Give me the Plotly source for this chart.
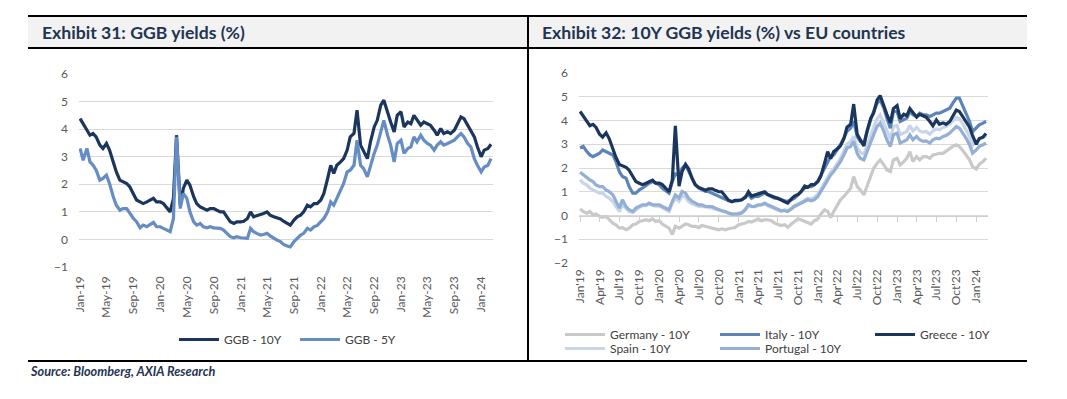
import pandas as pd
import plotly.graph_objects as go

W, H = 1067, 399
OFF = 8  # page body margin in the browser

# ---------------- data (semi-monthly readings, 1st & 15th of month) ----------------
dates = pd.date_range("2019-01-01", periods=124, freq="SMS")

ggb_10y = [4.38, 4.20, 3.96, 3.78, 3.84, 3.72, 3.42, 3.30, 3.48, 3.24,
           2.81, 2.45, 2.15, 2.09, 2.03, 1.91, 1.61, 1.43, 1.36, 1.30,
           1.36, 1.43, 1.49, 1.36, 1.36, 1.30, 1.12, 1.00, 1.49, 3.78,
           1.24, 1.85, 2.15, 1.97, 1.55, 1.30, 1.18, 1.12, 1.06, 1.12,
           1.12, 1.06, 1.00, 1.00, 0.82, 0.64, 0.58, 0.64, 0.64, 0.66,
           0.76, 1.00, 0.82, 0.86, 0.88, 0.94, 1.00, 0.88, 0.82, 0.78,
           0.74, 0.66, 0.58, 0.52, 0.70, 0.82, 0.88, 1.00, 1.24, 1.18,
           1.30, 1.30, 1.43, 1.67, 2.21, 2.69, 2.39, 2.69, 2.81, 2.93,
           3.24, 3.72, 3.84, 4.69, 3.42, 3.18, 2.93, 3.54, 4.08, 4.32,
           4.87, 5.05, 4.57, 4.26, 3.90, 4.50, 4.63, 4.08, 4.26, 4.20,
           4.50, 4.32, 4.14, 4.26, 4.20, 4.14, 3.96, 3.78, 4.02, 3.84,
           3.90, 3.84, 3.96, 4.20, 4.44, 4.38, 4.14, 3.90, 3.72, 3.36,
           3.00, 3.24, 3.30, 3.45]

ggb_5y = [3.30, 2.87, 3.30, 2.81, 2.69, 2.51, 2.15, 2.21, 2.33, 2.03,
          1.55, 1.24, 1.06, 1.12, 1.12, 0.94, 0.76, 0.64, 0.42, 0.52,
          0.46, 0.54, 0.62, 0.46, 0.46, 0.40, 0.34, 0.28, 0.76, 3.72,
          1.12, 1.67, 1.49, 1.00, 0.64, 0.52, 0.58, 0.46, 0.42, 0.46,
          0.42, 0.42, 0.40, 0.34, 0.22, 0.10, 0.06, 0.10, 0.06, 0.04,
          0.04, 0.40, 0.28, 0.22, 0.16, 0.18, 0.22, 0.13, 0.04, -0.02,
          -0.08, -0.18, -0.24, -0.27, -0.08, 0.04, 0.16, 0.22, 0.40, 0.34,
          0.46, 0.50, 0.64, 0.76, 1.00, 1.36, 1.24, 1.49, 1.79, 2.03,
          2.45, 2.51, 2.69, 3.60, 2.69, 2.57, 2.27, 2.69, 3.12, 3.42,
          3.90, 4.32, 3.78, 3.42, 2.81, 3.48, 3.60, 3.12, 3.30, 3.36,
          3.72, 3.54, 3.78, 3.60, 3.48, 3.42, 3.24, 3.42, 3.54, 3.42,
          3.48, 3.54, 3.60, 3.72, 3.84, 3.72, 3.48, 3.36, 2.93, 2.69,
          2.45, 2.63, 2.69, 2.93]

germany_10y = [0.28, 0.17, 0.10, 0.17, 0.03, 0.06, -0.04, -0.08, -0.04, -0.18,
               -0.32, -0.39, -0.53, -0.51, -0.60, -0.53, -0.39, -0.36, -0.25, -0.22,
               -0.18, -0.22, -0.14, -0.25, -0.22, -0.36, -0.46, -0.53, -0.80, -0.45,
               -0.53, -0.46, -0.36, -0.39, -0.46, -0.46, -0.51, -0.42, -0.46, -0.51,
               -0.53, -0.56, -0.60, -0.56, -0.60, -0.56, -0.53, -0.51, -0.39, -0.36,
               -0.32, -0.25, -0.28, -0.22, -0.14, -0.22, -0.18, -0.18, -0.22, -0.32,
               -0.36, -0.42, -0.39, -0.49, -0.36, -0.25, -0.14, -0.18, -0.25, -0.32,
               -0.36, -0.22, -0.14, 0.06, 0.24, 0.17, -0.08, 0.17, 0.45, 0.66,
               0.80, 0.94, 1.15, 1.64, 1.22, 1.08, 0.87, 1.22, 1.64, 1.99,
               2.20, 2.34, 2.13, 1.92, 1.85, 2.34, 2.41, 2.13, 2.27, 2.41,
               2.69, 2.27, 2.48, 2.34, 2.48, 2.48, 2.41, 2.55, 2.58, 2.62,
               2.62, 2.72, 2.81, 2.91, 2.98, 2.91, 2.72, 2.55, 2.34, 2.06,
               1.96, 2.16, 2.27, 2.41]

italy_10y = [2.84, 2.91, 2.69, 2.55, 2.48, 2.55, 2.62, 2.76, 2.69, 2.62,
             2.55, 2.27, 1.85, 1.64, 1.57, 1.22, 0.94, 0.94, 1.08, 1.15,
             1.29, 1.36, 1.43, 1.36, 1.29, 1.15, 1.01, 0.94, 1.43, 1.75,
             1.71, 1.99, 2.13, 1.85, 1.50, 1.29, 1.15, 1.08, 1.01, 1.01,
             0.94, 0.87, 0.80, 0.73, 0.66, 0.62, 0.59, 0.59, 0.62, 0.66,
             0.80, 0.87, 0.73, 0.80, 0.80, 0.87, 0.94, 0.87, 0.80, 0.73,
             0.73, 0.66, 0.62, 0.60, 0.66, 0.73, 0.87, 1.01, 1.15, 1.22,
             1.22, 1.29, 1.43, 1.71, 1.99, 2.27, 2.48, 2.55, 2.76, 2.98,
             3.26, 3.54, 3.68, 3.96, 3.33, 3.12, 3.05, 3.54, 4.03, 4.38,
             4.73, 4.87, 4.52, 4.10, 3.68, 4.38, 4.38, 3.96, 4.03, 4.10,
             4.38, 4.24, 4.17, 4.31, 4.24, 4.24, 4.17, 4.24, 4.31, 4.31,
             4.38, 4.45, 4.52, 4.73, 4.94, 4.94, 4.59, 4.24, 3.96, 3.54,
             3.68, 3.82, 3.89, 3.96]

greece_10y = ggb_10y

spain_10y = [1.50, 1.36, 1.29, 1.15, 1.08, 1.01, 0.94, 0.94, 0.80, 0.73,
             0.59, 0.38, 0.17, 0.45, 0.31, 0.17, 0.13, 0.24, 0.34, 0.42,
             0.42, 0.48, 0.42, 0.39, 0.39, 0.34, 0.24, 0.17, 0.52, 0.73,
             0.59, 0.84, 0.77, 0.59, 0.48, 0.42, 0.38, 0.38, 0.34, 0.34,
             0.31, 0.27, 0.20, 0.17, 0.13, 0.08, 0.06, 0.06, 0.08, 0.13,
             0.28, 0.45, 0.38, 0.36, 0.42, 0.45, 0.48, 0.41, 0.34, 0.28,
             0.25, 0.17, 0.24, 0.20, 0.31, 0.42, 0.48, 0.56, 0.66, 0.73,
             0.70, 0.76, 0.90, 1.12, 1.40, 1.60, 1.82, 1.96, 2.20, 2.41,
             2.72, 3.00, 3.12, 3.33, 2.86, 2.67, 2.58, 2.95, 3.40, 3.71,
             4.07, 4.24, 3.89, 3.54, 3.23, 3.75, 3.79, 3.40, 3.47, 3.54,
             3.79, 3.56, 3.71, 3.56, 3.51, 3.54, 3.42, 3.56, 3.65, 3.61,
             3.71, 3.75, 3.85, 3.99, 4.13, 4.07, 3.85, 3.61, 3.33, 2.95,
             3.09, 3.23, 3.28, 3.37]

portugal_10y = [1.82, 1.71, 1.57, 1.50, 1.43, 1.29, 1.22, 1.22, 1.08, 1.01,
                0.87, 0.59, 0.31, 0.66, 0.38, 0.24, 0.17, 0.31, 0.38, 0.45,
                0.45, 0.52, 0.45, 0.45, 0.45, 0.38, 0.31, 0.24, 0.59, 0.87,
                0.73, 1.01, 0.94, 0.73, 0.59, 0.52, 0.45, 0.45, 0.38, 0.38,
                0.38, 0.31, 0.24, 0.20, 0.17, 0.10, 0.06, 0.06, 0.07, 0.10,
                0.24, 0.45, 0.38, 0.38, 0.45, 0.45, 0.52, 0.45, 0.38, 0.31,
                0.28, 0.20, 0.20, 0.17, 0.28, 0.38, 0.45, 0.52, 0.59, 0.66,
                0.62, 0.66, 0.80, 1.01, 1.29, 1.50, 1.71, 1.85, 2.06, 2.27,
                2.55, 2.84, 2.91, 3.12, 2.62, 2.41, 2.34, 2.69, 3.12, 3.40,
                3.75, 3.89, 3.54, 3.19, 2.91, 3.40, 3.47, 3.05, 3.12, 3.19,
                3.40, 3.19, 3.33, 3.19, 3.12, 3.14, 3.05, 3.19, 3.26, 3.23,
                3.33, 3.37, 3.47, 3.61, 3.75, 3.68, 3.47, 3.26, 2.98, 2.62,
                2.76, 2.91, 2.98, 3.05]

left_names = ["GGB - 10Y", "GGB - 5Y"]
right_names = ["Germany - 10Y", "Spain - 10Y", "Portugal - 10Y", "Italy - 10Y", "Greece - 10Y"]
left_title = "Exhibit 31: GGB yields (%)"
right_title = "Exhibit 32: 10Y GGB yields (%) vs EU countries"
source_text = "Source: Bloomberg, AXIA Research"

# ---------------- styling ----------------
NAVY = "#1B365D"
C5Y = "#668DC3"
C_DE = "#C9C9C9"
C_ES = "#C8D5E8"
C_PT = "#93AFD6"
C_IT = "#5B84B8"
GRID = "#D9D9D9"
TXT = "#595959"
FONT = "Lato"
LW = 3.2


def px_x(x):
    return (x - OFF) / W


def px_y(y):
    return 1 - (y - OFF) / H


fig = go.Figure()

# left chart
fig.add_trace(go.Scatter(x=dates, y=ggb_10y, name=left_names[0], mode="lines",
                         line=dict(color=NAVY, width=LW), xaxis="x", yaxis="y", legend="legend"))
fig.add_trace(go.Scatter(x=dates, y=ggb_5y, name=left_names[1], mode="lines",
                         line=dict(color=C5Y, width=LW), xaxis="x", yaxis="y", legend="legend"))

# right chart
right_series = [germany_10y, spain_10y, portugal_10y, italy_10y, greece_10y]
right_colors = [C_DE, C_ES, C_PT, C_IT, NAVY]
right_leg = ["legend2", "legend3", "legend3", "legend2", "legend2"]
for nm, ys, col, lg in zip(right_names, right_series, right_colors, right_leg):
    fig.add_trace(go.Scatter(x=dates, y=ys, name=nm, mode="lines",
                             line=dict(color=col, width=LW), xaxis="x2", yaxis="y2", legend=lg))

# helper trace for the zero-line tick axis
fig.add_trace(go.Scatter(x=[dates[0]], y=[None], mode="lines", showlegend=False,
                         hoverinfo="skip", xaxis="x3", yaxis="y2"))

L_X0, L_X1, L_Y0, L_Y1 = 79, 493, 74, 267
R_X0, R_X1, R_Y0, R_Y1 = 579, 988, 73, 263
left_range = ["2018-12-27", "2024-02-24"]
right_range = ["2018-12-27", "2024-02-24"]

tickfont = dict(family=FONT, size=12, color=TXT)
legfont = dict(family=FONT, size=12, color="#404040")

fig.update_layout(
    width=W, height=H,
    margin=dict(l=0, r=0, t=0, b=0, autoexpand=False),
    paper_bgcolor="white", plot_bgcolor="white",
    font=dict(family=FONT, color=TXT),
    xaxis=dict(domain=[px_x(L_X0), px_x(L_X1)], anchor="y", type="date", automargin=False,
               range=left_range, tickformat="%b-%y", dtick="M4", tick0="2019-01-01",
               tickangle=-90, showgrid=False, zeroline=False, showline=False,
               ticks="", tickfont=tickfont, ticklabelstandoff=6),
    yaxis=dict(domain=[px_y(L_Y1), px_y(L_Y0)], anchor="x", range=[-1, 6], dtick=1,
               automargin=False,
               showgrid=True, gridcolor=GRID, gridwidth=1, zeroline=False,
               showline=False, ticks="", tickfont=tickfont, ticklabelstandoff=10),
    xaxis2=dict(domain=[px_x(R_X0), px_x(R_X1)], anchor="y2", type="date", automargin=False,
                range=right_range, tickformat="%b'%y", dtick="M3", tick0="2019-01-01",
                tickangle=-90, showgrid=False, zeroline=False, showline=False,
                ticks="", tickfont=tickfont, ticklabelstandoff=3),
    xaxis3=dict(domain=[px_x(R_X0), px_x(R_X1)], anchor="free", overlaying="x2",
                automargin=False,
                position=px_y(R_Y0 + 6 * (R_Y1 - R_Y0) / 8), type="date",
                range=right_range, dtick="M3", tick0="2019-01-01",
                showticklabels=False, showgrid=False, zeroline=False,
                showline=True, linecolor="#CFCFCF", linewidth=1,
                ticks="outside", ticklen=5, tickcolor="#CFCFCF", tickwidth=1),
    yaxis2=dict(domain=[px_y(R_Y1), px_y(R_Y0)], anchor="x2", range=[-2, 6], dtick=1,
                automargin=False,
                showgrid=True, gridcolor=GRID, gridwidth=1, zeroline=False,
                showline=False, ticks="", tickfont=tickfont, ticklabelstandoff=10),
    legend=dict(orientation="h", x=px_x(174), y=px_y(325), xanchor="left", yanchor="top",
                font=legfont, itemwidth=40,
                entrywidth=66, entrywidthmode="pixels", bgcolor="rgba(0,0,0,0)",
                tracegroupgap=0),
    legend2=dict(orientation="h", x=px_x(560), y=px_y(320), xanchor="left", yanchor="top",
                 font=legfont, itemwidth=40,
                 entrywidth=100, entrywidthmode="pixels", bgcolor="rgba(0,0,0,0)"),
    legend3=dict(orientation="h", x=px_x(560), y=px_y(334), xanchor="left", yanchor="top",
                 font=legfont, itemwidth=40,
                 entrywidth=100, entrywidthmode="pixels", bgcolor="rgba(0,0,0,0)"),
    showlegend=True,
)

# frame: header bands, rules, divider
shapes = []
BX0, BX1, BXM = 28, 1027, 528
shapes.append(dict(type="rect", xref="paper", yref="paper", x0=px_x(BX0), x1=px_x(BX1),
                   y0=px_y(48), y1=px_y(16), fillcolor="#F2F2F2", line=dict(width=0), layer="below"))
for yy in (16, 48, 361):
    shapes.append(dict(type="line", xref="paper", yref="paper", x0=px_x(BX0), x1=px_x(BX1),
                       y0=px_y(yy), y1=px_y(yy), line=dict(color="black", width=2)))
shapes.append(dict(type="line", xref="paper", yref="paper", x0=px_x(BXM), x1=px_x(BXM),
                   y0=px_y(16), y1=px_y(361), line=dict(color="black", width=2)))
fig.update_layout(shapes=shapes)

fig.add_annotation(text=f"<b>{left_title}</b>", xref="paper", yref="paper",
                   x=px_x(40), y=px_y(32), xanchor="left", yanchor="middle", showarrow=False,
                   font=dict(family=FONT, size=17.6, color="#1F3552"))
fig.add_annotation(text=f"<b>{right_title}</b>", xref="paper", yref="paper",
                   x=px_x(540), y=px_y(32), xanchor="left", yanchor="middle", showarrow=False,
                   font=dict(family=FONT, size=17.6, color="#1F3552"))
fig.add_annotation(text=f"<b><i>{source_text}</i></b>", xref="paper", yref="paper",
                   x=px_x(28), y=px_y(371), xanchor="left", yanchor="middle", showarrow=False,
                   font=dict(family=FONT, size=12.7, color="#1F3552"))

fig.write_html("out.html")
